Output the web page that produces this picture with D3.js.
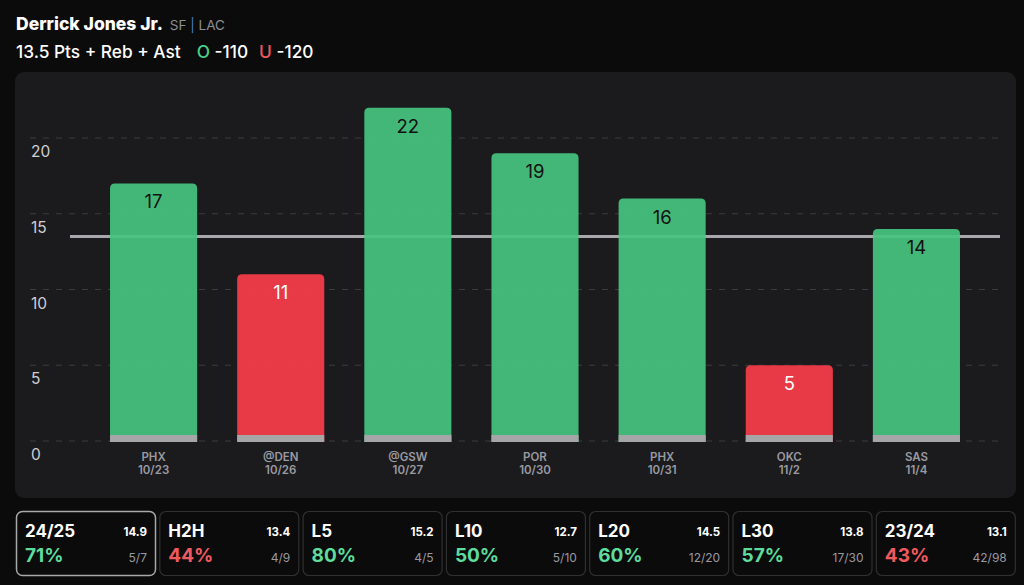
<!DOCTYPE html>
<html><head><meta charset="utf-8">
<script src="https://cdn.jsdelivr.net/npm/d3@7"></script>
<style>
html,body{margin:0;padding:0;background:#0b0b0b;}
svg{display:block;font-family:Inter,"Noto Sans",sans-serif;}
</style></head>
<body><svg id="c" width="1024" height="585"></svg>
<script>
const opponents = ["PHX","@DEN","@GSW","POR","PHX","OKC","SAS"];
const dates = ["10/23","10/26","10/27","10/30","10/31","11/2","11/4"];
const values = [17,11,22,19,16,5,14];
const lineValue = 13.5;
const yTicks = [0,5,10,15,20];
const cardLabels = ["24/25","H2H","L5","L10","L20","L30","23/24"];
const cardAvgs = ["14.9","13.4","15.2","12.7","14.5","13.8","13.1"];
const cardPcts = [71,44,80,50,60,57,43];
const cardFracs = ["5/7","4/9","4/5","5/10","12/20","17/30","42/98"];

const svg = d3.select("#c");
const green = "#46c47f", red = "#f83c4a";

// Header
const h1 = svg.append("text").attr("x",16).attr("y",30);
h1.append("tspan").text("Derrick Jones Jr.").attr("fill","#fff").attr("font-weight",800).attr("font-size",17.5);
h1.append("tspan").text(" SF").attr("fill","#8d8d93").attr("font-size",13.5).attr("dx",3);
h1.append("tspan").text(" | ").attr("fill","#4a7fd0").attr("font-size",13.5);
h1.append("tspan").text("LAC").attr("fill","#8d8d93").attr("font-size",13.5);
const h2 = svg.append("text").attr("x",16).attr("y",58).attr("font-size",17.3).attr("font-weight",500);
h2.append("tspan").text("13.5 Pts + Reb + Ast").attr("fill","#fff");
h2.append("tspan").text("O").attr("fill","#4ccf8a").attr("dx",16);
h2.append("tspan").text(" -110").attr("fill","#fff");
h2.append("tspan").text("U").attr("fill","#ec5a5a").attr("dx",11);
h2.append("tspan").text(" -120").attr("fill","#fff");

// Panel
svg.append("rect").attr("x",15).attr("y",72).attr("width",1001).attr("height",426).attr("rx",9).attr("fill","#1b1b1d");

const x = d3.scaleBand().domain(d3.range(values.length)).range([90,980]).paddingInner(0.315).paddingOuter(0.1575);
const y = d3.scaleLinear().domain([0,20]).range([441,138]);

// grid
svg.append("g").selectAll("line").data(yTicks).join("line")
  .attr("x1",30).attr("x2",1000).attr("y1",d=>y(d)).attr("y2",d=>y(d))
  .attr("stroke","#3c3c40").attr("stroke-width",1.2).attr("stroke-dasharray","6,7");
svg.append("g").selectAll("text").data(yTicks).join("text")
  .attr("x",31).attr("y",d=>y(d)+19).attr("fill","#d0d0d4").attr("font-size",15.5).text(d=>d);

// line
svg.append("line").attr("x1",70).attr("x2",1000).attr("y1",y(lineValue)).attr("y2",y(lineValue))
  .attr("stroke","#a8a8ac").attr("stroke-width",3);

// bars
const r = 5;
const g = svg.append("g");
g.selectAll("path.bar").data(values).join("path").attr("class","bar")
  .attr("d",(d,i)=>{
    const x0=x(i), x1=x(i)+x.bandwidth(), t=y(d), b=y(0)+1;
    return `M${x0},${b}V${t+r}Q${x0},${t} ${x0+r},${t}H${x1-r}Q${x1},${t} ${x1},${t+r}V${b}Z`;
  })
  .attr("fill",d=>d>lineValue?green:red).attr("fill-opacity",0.92);
g.selectAll("rect.base").data(values).join("rect").attr("class","base")
  .attr("x",(d,i)=>x(i)).attr("width",x.bandwidth()).attr("y",y(0)-6).attr("height",7).attr("fill","#a6a6a8");
g.selectAll("text.val").data(values).join("text").attr("class","val")
  .attr("x",(d,i)=>x(i)+x.bandwidth()/2).attr("y",d=>y(d)+25).attr("text-anchor","middle")
  .attr("font-size",18.5).attr("fill",d=>d>lineValue?"#111":"#fff").text(d=>d);

// x labels
const xl = svg.append("g").selectAll("text").data(opponents).join("text")
  .attr("x",(d,i)=>x(i)+x.bandwidth()/2).attr("text-anchor","middle")
  .attr("fill","#9a9aa2").attr("font-size",11.5).attr("font-weight",600);
xl.append("tspan").attr("x",(d,i)=>x(i)+x.bandwidth()/2).attr("y",461).text(d=>d);
xl.append("tspan").attr("x",(d,i)=>x(i)+x.bandwidth()/2).attr("y",474).text((d,i)=>dates[i]);

// cards
const cw = 139, cStart = 16, cStep = 143.3;
const cards = svg.append("g").selectAll("g").data(cardLabels).join("g")
  .attr("transform",(d,i)=>`translate(${cStart+i*cStep},511)`);
cards.append("rect").attr("x",0.5).attr("y",0.5).attr("width",cw).attr("height",64).attr("rx",6)
  .attr("fill","#0b0b0b").attr("stroke",(d,i)=>i===0?"#a8a8a8":"#303033").attr("stroke-width",(d,i)=>i===0?1.5:1.2);
cards.append("text").attr("x",9).attr("y",26).attr("fill","#fff").attr("font-size",17).attr("font-weight",700).text(d=>d);
cards.append("text").attr("x",131).attr("y",25).attr("text-anchor","end").attr("fill","#fff").attr("font-size",11.5).attr("font-weight",700).text((d,i)=>cardAvgs[i]);
cards.append("text").attr("x",9).attr("y",51).attr("fill",(d,i)=>cardPcts[i]>=50?"#5ddc9c":"#f05a5e").attr("font-size",19).attr("font-weight",700).text((d,i)=>cardPcts[i]+"%");
cards.append("text").attr("x",131).attr("y",51).attr("text-anchor","end").attr("fill","#9a9aa0").attr("font-size",12).text((d,i)=>cardFracs[i]);
</script></body></html>
